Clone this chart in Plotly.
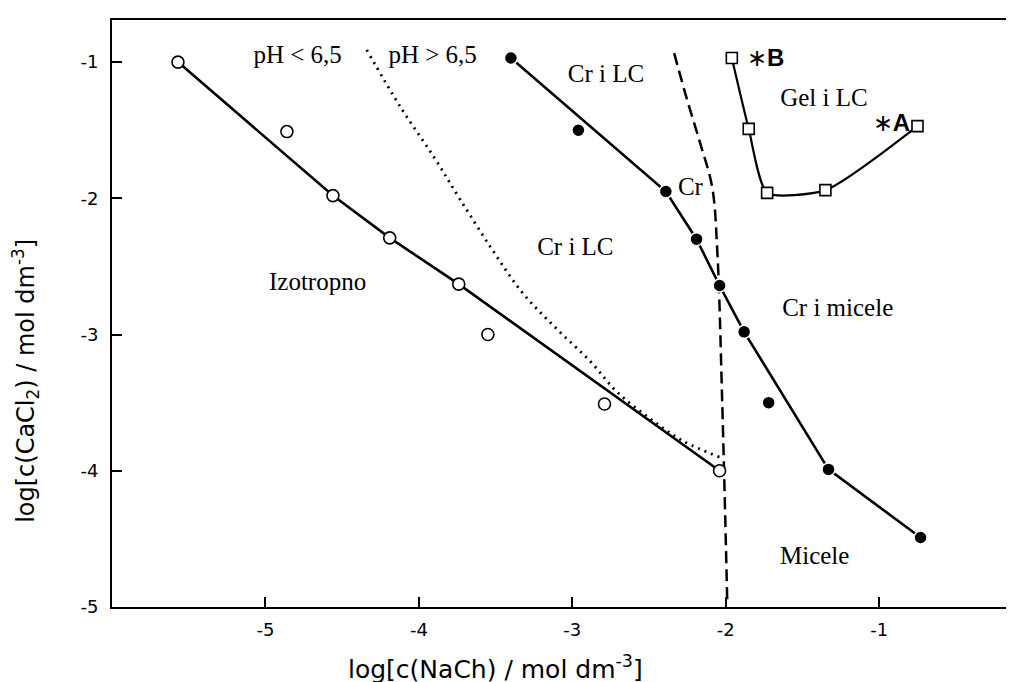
import plotly.graph_objects as go

# Open circles (isotropic boundary data)
open_x = [-5.57, -4.86, -4.56, -4.19, -3.74, -3.55, -2.79, -2.04]
open_y = [-1.00, -1.51, -1.98, -2.29, -2.63, -3.00, -3.51, -4.00]
open_line_idx = [0, 2, 3, 4, 7]

# Filled circles
fill_x = [-3.40, -2.96, -2.39, -2.19, -2.04, -1.88, -1.72, -1.33, -0.73]
fill_y = [-0.97, -1.50, -1.95, -2.30, -2.64, -2.98, -3.50, -3.99, -4.49]
fill_line_idx = [0, 2, 3, 4, 5, 7, 8]

# Open squares (gel boundary)
sq_x = [-1.96, -1.85, -1.73, -1.35, -0.75]
sq_y = [-0.97, -1.49, -1.96, -1.94, -1.47]

# Dotted boundary (pH < 6,5)
dot_x = [-4.34, -4.12, -3.90, -3.73, -3.52, -3.32, -3.10, -2.88, -2.71, -2.49, -2.28, -2.04]
dot_y = [-0.91, -1.33, -1.70, -2.01, -2.38, -2.70, -2.96, -3.20, -3.42, -3.62, -3.78, -3.90]

# Dashed boundary
dash_x = [-2.336, -2.251, -2.166, -2.088, -2.055, -2.023, -1.990]
dash_y = [-0.934, -1.279, -1.596, -1.919, -2.382, -3.485, -4.956]

# Region labels
label_text = ["pH < 6,5", "pH > 6,5", "Cr i LC", "Gel i LC", "Cr", "Cr i LC",
              "Izotropno", "Cr i micele", "Micele"]
label_x = [-4.79, -3.91, -2.78, -1.36, -2.23, -2.98, -4.66, -1.27, -1.42]
label_y = [-0.96, -0.96, -1.10, -1.28, -1.93, -2.37, -2.625, -2.82, -4.64]

# Star labels
star_text = ["\u2217<b>B</b>", "\u2217<b>A</b>"]
star_x = [-1.74, -0.92]
star_y = [-0.985, -1.46]

x_ticks = [-5, -4, -3, -2, -1]
y_ticks = [-1, -2, -3, -4, -5]

fig = go.Figure()

fig.add_trace(go.Scatter(x=dot_x, y=dot_y, mode="lines", line_shape="spline",
                         line=dict(color="black", width=2.8, dash="2px,5px")))
fig.add_trace(go.Scatter(x=dash_x, y=dash_y, mode="lines", line_shape="spline",
                         line=dict(color="black", width=2.5, dash="12px,6px")))
fig.add_trace(go.Scatter(x=[open_x[i] for i in open_line_idx],
                         y=[open_y[i] for i in open_line_idx], mode="lines",
                         line=dict(color="black", width=2.6)))
fig.add_trace(go.Scatter(x=open_x, y=open_y, mode="markers",
                         marker=dict(symbol="circle", size=12, color="white",
                                     line=dict(color="black", width=1.6))))
fig.add_trace(go.Scatter(x=[fill_x[i] for i in fill_line_idx],
                         y=[fill_y[i] for i in fill_line_idx], mode="lines",
                         line=dict(color="black", width=2.6)))
fig.add_trace(go.Scatter(x=fill_x, y=fill_y, mode="markers",
                         marker=dict(symbol="circle", size=13, color="black",
                                     line=dict(color="white", width=1.5))))
fig.add_trace(go.Scatter(x=sq_x, y=sq_y, mode="lines+markers", line_shape="spline",
                         line=dict(color="black", width=2.2, smoothing=0.6),
                         marker=dict(symbol="square", size=11, color="white",
                                     line=dict(color="black", width=1.6))))

fig.add_trace(go.Scatter(x=label_x, y=label_y, mode="text", text=label_text,
                         textfont=dict(family="Liberation Serif", size=25, color="black")))
fig.add_trace(go.Scatter(x=star_x, y=star_y, mode="text", text=star_text,
                         textfont=dict(family="Liberation Sans", size=24, color="black")))

fig.add_annotation(text="log[c(NaCh) / mol dm<sup>-3</sup>]", xref="x", yref="paper",
                   x=-3.5, y=0, yanchor="top", yshift=-42, showarrow=False,
                   font=dict(family="DejaVu Sans", size=25, color="black"))
fig.add_annotation(text="log[c(CaCl<sub>2</sub>) / mol dm<sup>-3</sup>]", xref="paper", yref="y",
                   x=0, y=-3.34, xanchor="center", xshift=-86, textangle=-90, showarrow=False,
                   font=dict(family="DejaVu Sans", size=24, color="black"))

fig.update_layout(
    width=1006, height=674, showlegend=False,
    paper_bgcolor="white", plot_bgcolor="white",
    margin=dict(l=104, r=4, t=12, b=75),
    xaxis=dict(range=[-6.0, -0.147], tickvals=x_ticks, ticktext=[str(v) for v in x_ticks],
               showgrid=False, zeroline=False, showline=True, linecolor="black", linewidth=2,
               mirror=True, ticks="inside", ticklen=10, tickwidth=1.5, tickcolor="black",
               ticklabelstandoff=5,
               tickfont=dict(family="DejaVu Sans", size=18, color="black")),
    yaxis=dict(range=[-5.0, -0.691], tickvals=y_ticks, ticktext=[str(v) for v in y_ticks],
               showgrid=False, zeroline=False, showline=True, linecolor="black", linewidth=2,
               ticks="inside", ticklen=10, tickwidth=1.5, tickcolor="black",
               ticklabelstandoff=8,
               tickfont=dict(family="DejaVu Sans", size=18, color="black")),
)

fig.write_html("out.html")
